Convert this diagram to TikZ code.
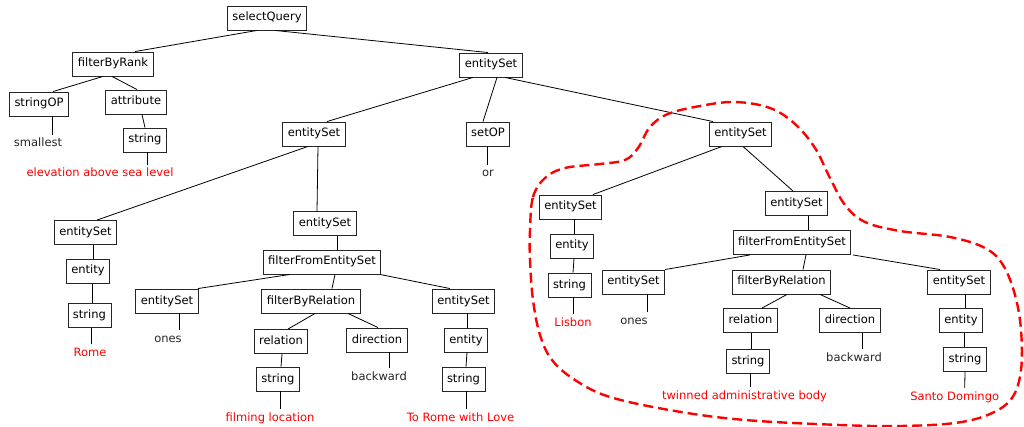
\documentclass[tikz,border=0pt]{standalone}
\usepackage{fontspec}
\setmainfont{DejaVu Sans}
\usetikzlibrary{calc}

\tikzset{
  cat/.style={draw=black!85, line width=0.9pt, inner xsep=5pt, inner ysep=6.5pt,
    text height=8.5pt, text depth=2.5pt},
  leaf/.style={inner sep=3.5pt, text height=8.5pt, text depth=2.5pt, text=black!85},
  word/.style={leaf, text=red},
  hull/.style={red, line width=2.4pt, dash pattern=on 10pt off 5pt}
}

\begin{document}
\begin{tikzpicture}[x=1pt, y=-1pt, every node/.style={font=\fontsize{11.5}{13}\selectfont}]
\useasboundingbox (0,0) rectangle (1024,427);

% upper part
\node[cat] (sq) at (267,18) {selectQuery};
\node[cat] (fbr) at (113,64) {filterByRank};
\node[cat] (es1) at (491,65) {entitySet};
\node[cat] (sop) at (39,104) {stringOP};
\node[cat] (attr) at (136,102) {attribute};
\node[leaf] (tsmall) at (38,144) {smallest};
\node[cat] (str1) at (145,140) {string};
\node[word] (telev) at (100,174) {elevation above sea level};
\node[cat] (es2) at (314,134) {entitySet};
\node[cat] (setop) at (488,134) {setOP};
\node[leaf] (tor) at (488,174) {or};
\node[cat] (es3) at (740.5,134) {entitySet};

% left subtree
\node[cat] (es4) at (85.5,232.5) {entitySet};
\node[cat] (ent1) at (88,271) {entity};
\node[cat] (str2) at (89.5,315.5) {string};
\node[word] (trome) at (90,353) {Rome};
\node[cat] (es5) at (325,223.5) {entitySet};
\node[cat] (ffes1) at (322,262) {filterFromEntitySet};
\node[cat] (es6) at (167,301) {entitySet};
\node[leaf] (tones1) at (168,339) {ones};
\node[cat] (fbrel1) at (311,301) {filterByRelation};
\node[cat] (es7) at (463.5,301) {entitySet};
\node[cat] (rel1) at (281,341.5) {relation};
\node[cat] (dir1) at (377,340) {direction};
\node[leaf] (tback1) at (379,377) {backward};
\node[cat] (ent2) at (466,340) {entity};
\node[cat] (str3) at (278,379) {string};
\node[cat] (str4) at (463.5,379) {string};
\node[word] (tfilm) at (270,418) {filming location};
\node[word] (tlove) at (460.5,418) {To Rome with Love};

% circled subtree
\node[cat] (es8) at (570.5,207) {entitySet};
\node[cat] (es9) at (796.5,203.5) {entitySet};
\node[cat] (ent3) at (572,246) {entity};
\node[cat] (ffes2) at (792,242.5) {filterFromEntitySet};
\node[cat] (str5) at (569.5,285) {string};
\node[word] (tlis) at (573,323) {Lisbon};
\node[cat] (es10) at (633.5,282) {entitySet};
\node[leaf] (tones2) at (634,321) {ones};
\node[cat] (fbrel2) at (781.5,282) {filterByRelation};
\node[cat] (es11) at (959,282) {entitySet};
\node[cat] (rel2) at (750.5,320.5) {relation};
\node[cat] (dir2) at (850,320.5) {direction};
\node[leaf] (tback2) at (854,358) {backward};
\node[cat] (ent4) at (961,320.5) {entity};
\node[cat] (str6) at (748,361) {string};
\node[cat] (str7) at (965,359) {string};
\node[word] (ttwin) at (744.5,396) {twinned administrative body};
\node[word] (tsanto) at (954.7,397) {Santo Domingo};

% edges: parent/shift/child/shift
\foreach \a/\sa/\b/\sb in {sq/-10/fbr/22, sq/8/es1/-3, fbr/-10/sop/14, fbr/-1/attr/1,
    sop/13/tsmall/14, attr/6/str1/0, str1/2/telev/47, es1/-18/es2/13, es1/6/setop/-5,
    es1/14/es3/-27.5, setop/-1/tor/-1, es2/-6/es4/11.5, es2/4/es5/-8, es4/7.5/ent1/5,
    ent1/4/str2/2.5, str2/1.5/trome/1, es5/12/ffes1/15, ffes1/-32/es6/31,
    ffes1/13/fbrel1/21, ffes1/58/es7/-13.5, es6/12/tones1/11, fbrel1/4/rel1/7,
    fbrel1/37/dir1/1, rel1/1/str3/3, str3/2/tfilm/10, dir1/12/tback1/10,
    es7/3.5/ent2/1, ent2/1/str4/2.5, str4/2.5/tlove/5.5, es3/-18.5/es8/22.5,
    es3/2.5/es9/-3.5, es8/3.5/ent3/2, ent3/2/str5/3.5, str5/3.5/tlis/0,
    es9/11.5/ffes2/16, ffes2/-42/es10/31.5, ffes2/14/fbrel2/21.5, ffes2/61/es11/-19,
    es10/13.5/tones2/13, fbrel2/5.5/rel2/11.5, fbrel2/38.5/dir2/0, rel2/0.5/str6/3,
    str6/2/ttwin/5.5, dir2/12/tback2/8, es11/6/ent4/4, ent4/3/str7/-1, str7/0/tsanto/10}
  \draw[line width=0.8pt] ([xshift=\sa]\a.south) -- ([xshift=\sb]\b.north);

% dashed hull round the second entitySet
\draw[hull] plot[smooth cycle, tension=0.6] coordinates {
  (530,230) (533,197) (545,178) (565,168) (600,164) (625,160) (638,148) (650,127)
  (668,114) (700,106) (735,102) (770,108) (795,124) (815,148) (830,178) (845,205)
  (865,222) (900,231) (950,237) (985,248) (1003,265) (1015,295) (1021,330)
  (1021,370) (1012,398) (990,414) (955,423) (900,426) (840,425) (745,420)
  (675,411) (610,397) (575,380) (552,360) (540,335) (533,300) (530,260)};

\end{tikzpicture}
\end{document}
